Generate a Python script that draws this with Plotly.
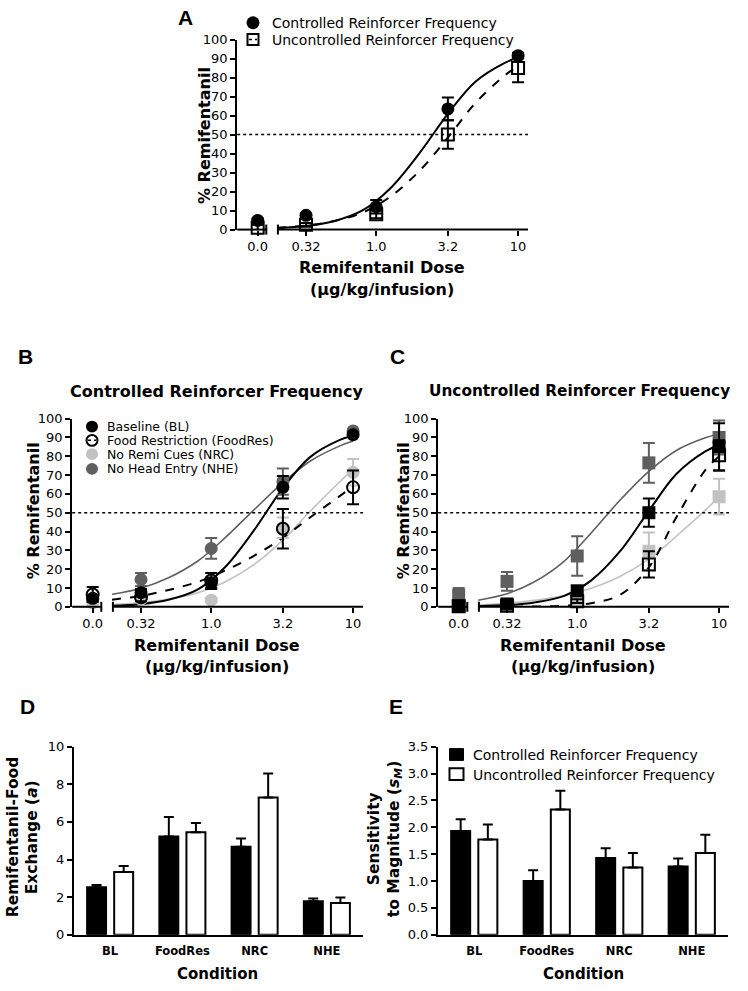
import plotly.graph_objects as go

W, H = 748, 991
FONT = "DejaVu Sans"
BLACK = "#000000"
DARK = "#5f5f5f"
LIGHT = "#c2c2c2"

# ---------------- data ----------------
DOSE_LABELS = ["0.0", "0.32", "1.0", "3.2", "10"]
DOSES = [0.0, 0.32, 1.0, 3.2, 10.0]
CURVE_DOSES = [0.2, 0.32, 0.5, 0.8, 1.25, 2.0, 3.2, 5.0, 8.0, 10.0]

# Panel A
A_CTRL = [4.8, 7.5, 12.0, 63.5, 91.5]
A_CTRL_SEM = [1.0, 1.0, 3.5, 6.0, 1.5]
A_UNC = [1.0, 2.5, 8.0, 50.0, 85.0]
A_UNC_SEM = [1.5, 1.0, 2.0, 7.5, 7.5]
A_CTRL_FIT = [0.8, 1.9, 4.4, 10.1, 21.5, 39.8, 60.9, 77.8, 87.6, 90.5]
A_UNC_FIT = [1.0, 2.1, 4.4, 8.9, 17.2, 30.6, 48.4, 66.6, 80.9, 86.0]

# Panel B (controlled reinforcer frequency)
B_BL = [4.5, 7.5, 12.5, 63.5, 91.5]
B_BL_SEM = [1.0, 2.0, 3.0, 6.0, 1.0]
B_FR = [6.5, 5.0, 14.0, 41.5, 63.5]
B_FR_SEM = [4.0, 2.0, 4.0, 10.5, 9.0]
B_NRC = [2.0, 4.0, 3.5, 42.0, 71.5]
B_NRC_SEM = [1.0, 1.0, 1.0, 5.5, 7.0]
B_NHE = [4.0, 14.5, 31.0, 66.5, 93.5]
B_NHE_SEM = [1.0, 3.5, 5.5, 7.0, 1.0]
B_BL_FIT = [0.6, 1.4, 3.7, 9.1, 21.0, 40.6, 63.1, 79.7, 88.6, 90.9]
B_FR_FIT = [3.8, 5.8, 8.9, 13.2, 19.2, 27.1, 36.7, 47.6, 58.7, 64.0]
B_NRC_FIT = [1.2, 2.2, 4.1, 7.4, 13.2, 22.4, 35.4, 50.9, 66.2, 73.0]
B_NHE_FIT = [6.7, 9.9, 15.4, 24.2, 36.6, 51.5, 66.0, 77.5, 85.4, 88.1]

# Panel C (uncontrolled reinforcer frequency)
C_BL = [0.5, 1.5, 8.5, 50.0, 85.0]
C_BL_SEM = [0.5, 1.0, 2.0, 7.5, 12.5]
C_FR = [0.3, 0.5, 3.0, 22.5, 80.5]
C_FR_SEM = [0.3, 0.5, 1.0, 7.0, 8.0]
C_NRC = [0.5, 1.0, 3.5, 29.5, 58.5]
C_NRC_SEM = [0.5, 0.5, 1.5, 10.0, 9.5]
C_NHE = [6.0, 13.5, 27.0, 76.5, 90.0]
C_NHE_SEM = [4.0, 5.0, 10.5, 10.5, 9.0]
C_BL_FIT = [0.3, 0.9, 2.3, 5.7, 13.9, 29.4, 51.0, 70.6, 82.6, 86.0]
C_FR_FIT = [0.0, 0.04, 0.15, 0.5, 1.9, 6.3, 21.0, 47.6, 72.6, 80.0]
C_NRC_FIT = [1.1, 1.9, 3.4, 5.8, 9.8, 16.1, 25.3, 37.5, 51.4, 58.5]
C_NHE_FIT = [3.5, 6.9, 13.3, 23.9, 39.1, 56.6, 72.0, 83.1, 89.8, 91.8]

# Panels D and E
CONDITIONS = ["BL", "FoodRes", "NRC", "NHE"]
D_CTRL = [2.53, 5.22, 4.68, 1.78]
D_CTRL_SEM = [0.12, 1.04, 0.43, 0.15]
D_UNC = [3.34, 5.45, 7.30, 1.69]
D_UNC_SEM = [0.32, 0.49, 1.27, 0.29]
E_CTRL = [1.93, 1.00, 1.43, 1.27]
E_CTRL_SEM = [0.22, 0.20, 0.18, 0.15]
E_UNC = [1.77, 2.33, 1.25, 1.52]
E_UNC_SEM = [0.28, 0.35, 0.27, 0.34]

# ---------------- layout helpers ----------------
ZERO_DOSE_AT = 0.146          # where the "0.0" dose sits left of the axis break
LOG_RANGE = [-0.98, 1.07]


def px(x):
    return x / W


def py(y):
    return 1 - y / H


fig = go.Figure()


def ax_names(n):
    return ("x", "y") if n == 1 else ("x%d" % n, "y%d" % n)


def add_fit(n, y, color, dash="solid", width=2):
    xa, ya = ax_names(n)
    fig.add_trace(go.Scatter(
        x=CURVE_DOSES, y=y, mode="lines",
        line=dict(color=color, width=width, dash=dash, shape="spline", smoothing=1.0),
        xaxis=xa, yaxis=ya, showlegend=False, hoverinfo="skip"))


def add_points(n, y, sem, symbol, color, size=13, name=""):
    xa, ya = ax_names(n)
    x = [ZERO_DOSE_AT if d == 0 else d for d in DOSES]
    is_open = symbol.endswith("-open")
    fig.add_trace(go.Scatter(
        x=x, y=y, mode="markers", name=name, cliponaxis=False,
        marker=dict(symbol=symbol, size=size, color=color,
                    line=dict(width=2 if is_open else 0, color=color)),
        error_y=dict(type="data", array=sem, visible=True, color=color,
                     thickness=2, width=6),
        xaxis=xa, yaxis=ya, showlegend=False))


# Panel A
add_fit(1, A_CTRL_FIT, BLACK)
add_fit(1, A_UNC_FIT, BLACK, dash="dash")
add_points(1, A_UNC, A_UNC_SEM, "square-open", BLACK, 12, "Uncontrolled")
add_points(1, A_CTRL, A_CTRL_SEM, "circle", BLACK, 13, "Controlled")

# Panel B
add_fit(2, B_NHE_FIT, DARK, width=1.6)
add_fit(2, B_NRC_FIT, LIGHT, width=1.6)
add_fit(2, B_FR_FIT, BLACK, dash="dash")
add_fit(2, B_BL_FIT, BLACK)
add_points(2, B_NHE, B_NHE_SEM, "circle", DARK, 13)
add_points(2, B_NRC, B_NRC_SEM, "circle", LIGHT, 13)
add_points(2, B_FR, B_FR_SEM, "circle-open", BLACK, 12)
add_points(2, B_BL, B_BL_SEM, "circle", BLACK, 13)

# Panel C
add_fit(3, C_NHE_FIT, DARK, width=1.6)
add_fit(3, C_NRC_FIT, LIGHT, width=1.6)
add_fit(3, C_FR_FIT, BLACK, dash="dash")
add_fit(3, C_BL_FIT, BLACK)
add_points(3, C_NHE, C_NHE_SEM, "square", DARK, 13)
add_points(3, C_NRC, C_NRC_SEM, "square", LIGHT, 13)
add_points(3, C_FR, C_FR_SEM, "square-open", BLACK, 12)
add_points(3, C_BL, C_BL_SEM, "square", BLACK, 13)


def add_bars(n, y, sem, fill, name):
    xa, ya = ax_names(n)
    fig.add_trace(go.Bar(
        x=CONDITIONS, y=y, name=name,
        marker=dict(color=fill, line=dict(color=BLACK, width=2)),
        error_y=dict(type="data", symmetric=False, array=sem,
                     arrayminus=[0] * len(sem), color=BLACK, thickness=2, width=5),
        xaxis=xa, yaxis=ya, showlegend=False))


add_bars(4, D_CTRL, D_CTRL_SEM, BLACK, "Controlled")
add_bars(4, D_UNC, D_UNC_SEM, "white", "Uncontrolled")
add_bars(5, E_CTRL, E_CTRL_SEM, BLACK, "Controlled")
add_bars(5, E_UNC, E_UNC_SEM, "white", "Uncontrolled")

# ---------------- axes ----------------
TICKFONT = dict(family=FONT, size=13, color=BLACK)

# pixel boxes: (left, right, bottom, top)
BOX = {
    1: (237.2, 528.0, 226, 33),
    2: (72.2, 363.0, 609, 418),
    3: (438.2, 729.0, 609, 418),
    4: (74.0, 363.0, 942, 751),
    5: (438.0, 728.0, 942, 751),
}

layout_axes = {}
for n, (l, r, b, t) in BOX.items():
    xa, ya = ax_names(n)
    xk = "xaxis" if n == 1 else "xaxis%d" % n
    yk = "yaxis" if n == 1 else "yaxis%d" % n
    yaxis = dict(domain=[py(b), py(t)], anchor=xa, showline=True, linewidth=2,
                 linecolor=BLACK, ticks="outside", ticklen=5, tickwidth=2,
                 tickcolor=BLACK, showgrid=False, zeroline=False, tickfont=TICKFONT,
                 fixedrange=True)
    if n <= 3:
        xaxis = dict(domain=[px(l), px(r)], anchor=ya, type="log", range=LOG_RANGE,
                     showline=False, showgrid=False, zeroline=False,
                     ticks="outside", ticklen=5, tickwidth=2, tickcolor=BLACK,
                     tickvals=[ZERO_DOSE_AT if d == 0 else d for d in DOSES],
                     ticktext=DOSE_LABELS, tickfont=TICKFONT)
        yaxis.update(range=[0, 100], tickvals=list(range(0, 101, 10)))
    else:
        xaxis = dict(domain=[px(l), px(r)], anchor=ya, type="category",
                     categoryarray=CONDITIONS, range=[-0.5, 3.5], showline=True,
                     linewidth=2, linecolor=BLACK, ticks="", showgrid=False,
                     tickfont=dict(family=FONT, size=11.5, color=BLACK, weight="bold"),
                     ticklabelstandoff=4)
        if n == 4:
            yaxis.update(range=[0, 10], tickvals=[0, 2, 4, 6, 8, 10])
        else:
            yaxis.update(range=[0, 3.5], tickvals=[0, 0.5, 1, 1.5, 2, 2.5, 3, 3.5],
                         tickformat=".1f")
    layout_axes[xk] = xaxis
    layout_axes[yk] = yaxis

# ---------------- shapes: axis breaks and 50% reference ----------------
shapes = []
for n in (1, 2, 3):
    xa, ya = ax_names(n)
    xr, yr = xa + " domain", ya + " domain"
    line = dict(color=BLACK, width=2)
    shapes.append(dict(type="line", xref=xr, yref=yr, x0=0, x1=0.10, y0=0, y1=0, line=line))
    shapes.append(dict(type="line", xref=xr, yref=yr, x0=0.14, x1=1, y0=0, y1=0, line=line))
    for xb in (0.10, 0.14):
        shapes.append(dict(type="line", xref=xr, yref=yr, x0=xb, x1=xb,
                           ysizemode="pixel", yanchor=0, y0=-5, y1=5, line=line))
    shapes.append(dict(type="line", xref=xr, yref=ya, x0=0, x1=1, y0=50, y1=50,
                       line=dict(color=BLACK, width=1.5, dash="dot")))


# ---------------- manual legends ----------------
def circle(cx, cy, d, fill, color=BLACK, lw=0):
    shapes.append(dict(type="circle", xref="paper", yref="paper",
                       x0=px(cx - d / 2), x1=px(cx + d / 2),
                       y0=py(cy + d / 2), y1=py(cy - d / 2),
                       fillcolor=fill, line=dict(color=color, width=lw)))


def rect(cx, cy, w, h, fill, lw=2):
    shapes.append(dict(type="rect", xref="paper", yref="paper",
                       x0=px(cx - w / 2), x1=px(cx + w / 2),
                       y0=py(cy + h / 2), y1=py(cy - h / 2),
                       fillcolor=fill, line=dict(color=BLACK, width=lw)))


def dash_seg(cx, cy, half):
    shapes.append(dict(type="line", xref="paper", yref="paper",
                       x0=px(cx - half), x1=px(cx + half), y0=py(cy), y1=py(cy),
                       line=dict(color=BLACK, width=1.5, dash="dot")))


annotations = []


def text(x, y, s, size, bold=False, anchor="left", angle=0, family=FONT):
    annotations.append(dict(
        x=px(x), y=py(y), xref="paper", yref="paper", text=s, showarrow=False,
        xanchor=anchor, yanchor="middle", textangle=angle,
        font=dict(family=family, size=size, color=BLACK,
                  weight="bold" if bold else "normal")))


# legend A
circle(253, 16, 13, BLACK)
rect(253, 33, 11, 11, "rgba(0,0,0,0)")
dash_seg(253, 33, 4)
text(270, 16, "Controlled Reinforcer Frequency", 14)
text(270, 33, "Uncontrolled Reinforcer Frequency", 14)

# legend B
circle(92, 426, 12, BLACK)
circle(92, 440, 11, "rgba(0,0,0,0)", BLACK, 2)
dash_seg(92, 440, 4)
circle(92, 454, 12, LIGHT)
circle(92, 469, 12, DARK)
text(105, 426, "Baseline (BL)", 12.5)
text(105, 440, "Food Restriction (FoodRes)", 12.5)
text(105, 454, "No Remi Cues (NRC)", 12.5)
text(105, 469, "No Head Entry (NHE)", 12.5)

# legend E
rect(456.5, 759, 14, 12, BLACK, 1)
rect(456.5, 779, 14, 12, "white", 2)
text(471, 760, "Controlled Reinforcer Frequency", 14)
text(471, 780, "Uncontrolled Reinforcer Frequency", 14)

# panel letters
for lab, x, y in (("A", 185, 11), ("B", 25, 355), ("C", 397, 355), ("D", 27, 710), ("E", 396, 710)):
    text(x, y, lab, 21, bold=True, anchor="center", family="Liberation Sans")

# panel titles
text(216, 390, "Controlled Reinforcer Frequency", 16, bold=True, anchor="center")
text(579, 390, "Uncontrolled Reinforcer Frequency", 15.3, bold=True, anchor="center")

# axis titles
for cx, ty in ((382, 265), (217, 648), (583, 648)):
    text(cx, ty, "Remifentanil Dose", 16, bold=True, anchor="center")
    text(cx, ty + 22, "(µg/kg/infusion)", 16, bold=True, anchor="center")
for cx, cy in ((204, 130), (33, 512), (403, 512)):
    text(cx, cy, "% Remifentanil", 16, bold=True, anchor="center", angle=-90)

text(13, 843, "Remifentanil-Food", 15.5, bold=True, anchor="center", angle=-90)
text(32, 843, "Exchange (<i>a</i>)", 15.5, bold=True, anchor="center", angle=-90)
text(374, 845, "Sensitivity", 15.5, bold=True, anchor="center", angle=-90)
text(395, 845, "to Magnitude (<i>s</i><sub><i>M</i></sub>)", 15.5, bold=True,
     anchor="center", angle=-90)
text(217, 982, "Condition", 15, bold=True, anchor="center")
text(583, 982, "Condition", 15, bold=True, anchor="center")

fig.update_layout(
    width=W, height=H, margin=dict(l=0, r=0, t=0, b=0),
    paper_bgcolor="white", plot_bgcolor="white",
    font=dict(family=FONT, color=BLACK),
    barmode="group", bargap=0.25, bargroupgap=0.3,
    showlegend=False, shapes=shapes, annotations=annotations,
    **layout_axes)

fig.write_html("out.html", config={"displayModeBar": False},
               post_script="document.body.style.margin='0';")
